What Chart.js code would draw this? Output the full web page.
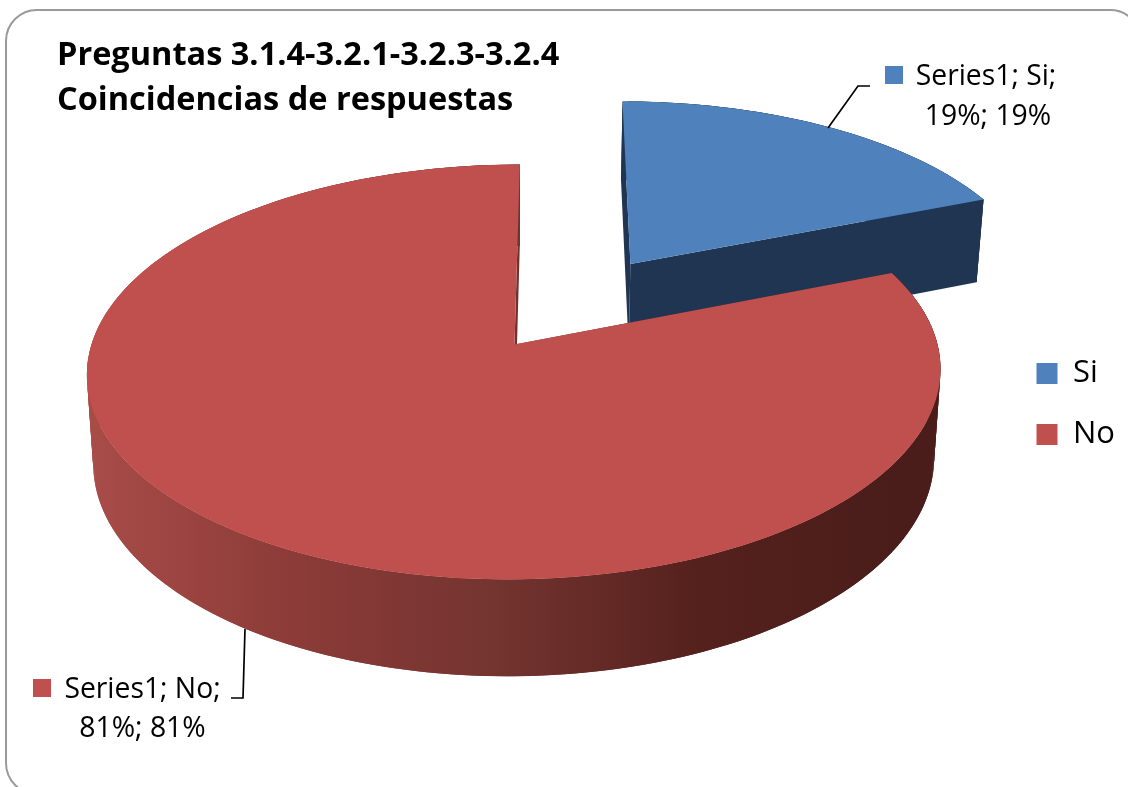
<!DOCTYPE html>
<html>

<head>
  <title>Preguntas 3.1.4-3.2.1-3.2.3-3.2.4</title>
  <script src="https://cdn.jsdelivr.net/npm/chart.js"></script>
  <style>
    html, body { margin: 0; padding: 0; background: #fff; overflow: hidden; }
    #wrap { position: relative; width: 1128px; height: 787px; overflow: hidden; }
    #frame {
      position: absolute; left: 5px; top: 9px; width: 1137px; height: 786px;
      border: 2px solid #9a9a9a; border-radius: 32px; box-sizing: border-box;
    }
    #pie { position: absolute; left: 0; top: 0; }
  </style>
</head>

<body>
  <div id="wrap">
    <div id="frame"></div>
    <canvas id="pie"></canvas>
  </div>

  <script>
    const categories = ['Si', 'No'];
    const values = [19, 81];
    const seriesName = 'Series1';
    const titleLines = ['Preguntas 3.1.4-3.2.1-3.2.3-3.2.4', 'Coincidencias de respuestas'];
    const sliceColors = ['#4F81BD', '#C0504D'];
    const sliceOffsets = [131.2, 0];

    // perspective used to lay the pie plane on the page
    const view = { cx: 514.5, cy: 344.5, ax: 423, ay: 203.8, shear: -6, k: 0.1325, depth: 88, depthK: -4, shrink: 0.985 };
    const sideColors = [
      ['#1F3552', '#1F3552'],
      ['#A84C48', '#8C3B38', '#743430', '#55211D', '#4A1D1A']
    ];

    function project(u, v, low) {
      const w = 1 - view.k * v;
      const s = low ? view.shrink : 1;
      const drop = low ? view.depth + view.depthK * v : 0;
      return { x: view.cx + (view.ax * u * s + view.shear * v) / w, y: view.cy + (view.ay * v + drop) / w };
    }

    // outline of one slice in the unit plane, from the arc element of the chart
    function outline(arc) {
      const p = arc.getProps(['startAngle', 'endAngle', 'outerRadius']);
      const mid = (p.startAngle + p.endAngle) / 2;
      const ex = (arc.options.offset || 0) / p.outerRadius;
      const ox = ex * Math.cos(mid), oy = ex * Math.sin(mid);
      const pts = [[ox, oy]];
      const steps = Math.ceil((p.endAngle - p.startAngle) * 60);
      for (let i = 0; i <= steps; i++) {
        const a = p.startAngle + (p.endAngle - p.startAngle) * i / steps;
        pts.push([ox + Math.cos(a), oy + Math.sin(a)]);
      }
      return pts;
    }

    function fillPath(ctx, pts, low, style) {
      ctx.beginPath();
      pts.forEach((q, i) => {
        const s = project(q[0], q[1], low);
        if (i == 0) ctx.moveTo(s.x, s.y); else ctx.lineTo(s.x, s.y);
      });
      ctx.closePath();
      ctx.fillStyle = style;
      ctx.fill();
    }

    // each quad reaches over the next point too, so no seams show
    function drawWalls(ctx, pts, style) {
      ctx.fillStyle = style;
      for (let i = 0; i < pts.length; i++) {
        const a = pts[i], b = pts[(i + 1) % pts.length], c = pts[(i + 2) % pts.length];
        const far = i < pts.length - 2 && i > 0 ? c : b;
        const p1 = project(a[0], a[1]), p2 = project(far[0], far[1]);
        const p3 = project(far[0], far[1], true), p4 = project(a[0], a[1], true);
        ctx.beginPath();
        ctx.moveTo(p1.x, p1.y);
        ctx.lineTo(p2.x, p2.y);
        ctx.lineTo(p3.x, p3.y);
        ctx.lineTo(p4.x, p4.y);
        ctx.closePath();
        ctx.fill();
      }
    }

    const pie3d = {
      id: 'pie3d',
      beforeDatasetDraw(chart) {
        const ctx = chart.ctx;
        chart.getDatasetMeta(0).data.forEach((arc, i) => {
          const pts = outline(arc);
          const stops = sideColors[i];
          const grad = ctx.createLinearGradient(90, 0, 900, 0);
          stops.forEach((c, n) => grad.addColorStop(n / (stops.length - 1), c));
          drawWalls(ctx, pts, grad);
          fillPath(ctx, pts, false, sliceColors[i]);
        });
        return false;
      }
    };

    const dataLabels = [
      { mark: [885, 66], lines: [[986, 85], [988, 125]], leader: [[828, 128], [858, 86], [870, 86]] },
      { mark: [33, 679], lines: [[142.5, 698], [142.5, 737]], leader: [[245, 629], [243, 698], [231, 698]] }
    ];

    const labelPlugin = {
      id: 'labelPlugin',
      afterDraw(chart) {
        const ctx = chart.ctx;
        ctx.save();
        dataLabels.forEach((d, i) => {
          ctx.fillStyle = sliceColors[i];
          ctx.fillRect(d.mark[0], d.mark[1], 18, 18);
          ctx.beginPath();
          d.leader.forEach((q, n) => n == 0 ? ctx.moveTo(q[0], q[1]) : ctx.lineTo(q[0], q[1]));
          ctx.strokeStyle = '#000';
          ctx.lineWidth = 1.7;
          ctx.stroke();
          ctx.fillStyle = '#000';
          ctx.font = '28.3px "Open Sans"';
          ctx.textAlign = 'center';
          ctx.textBaseline = 'alphabetic';
          ctx.fillText(seriesName + '; ' + categories[i] + ';', d.lines[0][0], d.lines[0][1]);
          const pct = values[i] + '%; ' + values[i] + '%';
          ctx.fillText(pct, d.lines[1][0], d.lines[1][1]);
        });
        ctx.restore();
      }
    };

    const canvas = document.getElementById('pie');
    canvas.style.width = '1128px';
    canvas.style.height = '787px';
    const chart = new Chart(canvas.getContext('2d'), {
      type: 'pie',
      data: {
        labels: categories,
        datasets: [{
          label: seriesName,
          data: values,
          backgroundColor: sliceColors,
          offset: sliceOffsets,
          borderWidth: 0
        }]
      },
      options: {
        responsive: false,
        animation: false,
        layout: { padding: { left: 57, top: 33, right: 3, bottom: 12 } },
        plugins: {
          tooltip: { enabled: false },
          title: {
            display: true,
            text: titleLines,
            align: 'start',
            color: '#000',
            padding: 0,
            font: { family: 'Open Sans', size: 32.5, weight: 'bold', lineHeight: 1.385 }
          },
          legend: {
            position: 'right',
            labels: {
              boxWidth: 21,
              boxHeight: 21,
              padding: 30,
              color: '#000',
              font: { family: 'Open Sans', size: 31 }
            }
          }
        }
      },
      plugins: [pie3d, labelPlugin]
    });
  </script>
</body>

</html>
